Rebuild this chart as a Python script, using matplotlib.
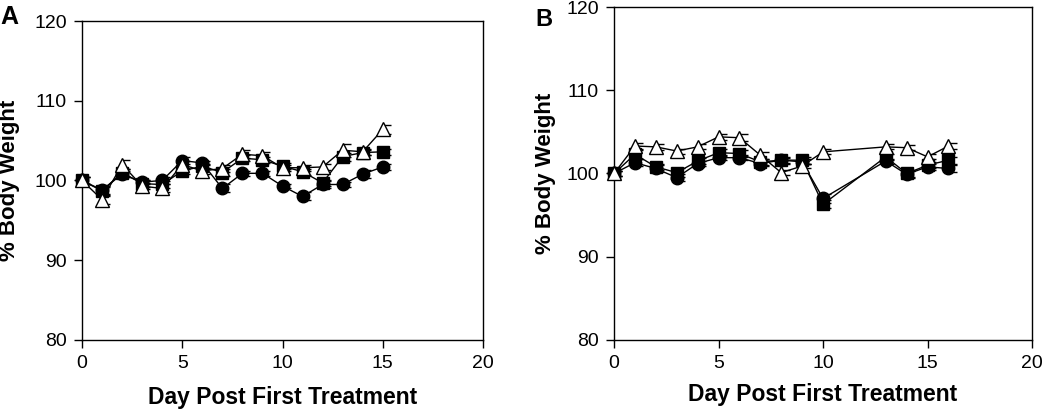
import matplotlib
matplotlib.use("Agg")
import matplotlib.pyplot as plt
import numpy as np

plt.rcParams['font.family'] = ['Liberation Sans', 'DejaVu Sans']

# Panel A
days_a = [0, 1, 2, 3, 4, 5, 6, 7, 8, 9, 10, 11, 12, 13, 14, 15]
circ_a = [100, 98.8, 100.8, 99.8, 100.0, 102.5, 102.2, 99.0, 100.9, 100.9, 99.3, 98.0, 99.5, 99.5, 100.8, 101.7]
sq_a = [100, 98.7, 101.0, 99.6, 99.5, 101.2, 101.8, 101.0, 102.8, 102.6, 101.8, 101.1, 99.7, 103.0, 103.5, 103.6]
tri_a = [100, 97.6, 102.0, 99.3, 99.0, 102.0, 101.2, 101.5, 103.3, 103.1, 101.6, 101.6, 101.7, 103.8, 103.6, 106.4]
err_circ_a = [0.4, 0.5, 0.4, 0.3, 0.5, 0.4, 0.3, 0.5, 0.3, 0.3, 0.3, 0.5, 0.4, 0.3, 0.5, 0.4]
err_sq_a = [0.4, 0.5, 0.5, 0.4, 0.4, 0.4, 0.3, 0.4, 0.4, 0.4, 0.4, 0.4, 0.4, 0.5, 0.3, 0.4]
err_tri_a = [0.4, 0.5, 0.6, 0.4, 0.5, 0.5, 0.4, 0.4, 0.5, 0.5, 0.4, 0.4, 0.4, 0.8, 0.4, 0.6]

# Panel B
days_b = [0, 1, 2, 3, 4, 5, 6, 7, 8, 9, 10, 13, 14, 15, 16]
circ_b = [100, 101.3, 100.6, 99.5, 101.2, 101.9, 101.9, 101.2, 101.6, 101.4, 97.0, 101.5, 99.9, 100.8, 100.6]
sq_b = [100, 102.3, 100.8, 100.1, 101.5, 102.5, 102.4, 101.4, 101.6, 101.6, 96.3, 102.0, 100.0, 101.0, 101.6]
tri_b = [100, 103.3, 103.2, 102.7, 103.2, 104.4, 104.3, 102.2, 100.1, 100.9, 102.6, 103.2, 103.1, 102.0, 103.3]
err_circ_b = [0.3, 0.4, 0.4, 0.4, 0.3, 0.3, 0.3, 0.3, 0.3, 0.3, 0.5, 0.3, 0.4, 0.4, 0.4]
err_sq_b = [0.3, 0.5, 0.4, 0.5, 0.4, 0.4, 0.4, 0.4, 0.4, 0.4, 0.5, 0.4, 0.4, 0.4, 0.4]
err_tri_b = [0.3, 0.4, 0.4, 0.3, 0.3, 0.4, 0.4, 0.4, 0.3, 0.3, 0.3, 0.3, 0.3, 0.3, 0.4]

xticks = [0, 5, 10, 15, 20]
yticks = [80, 90, 100, 110, 120]

fig = plt.figure(figsize=(10.5, 4.12), dpi=100)
axA = fig.add_axes([0.0781, 0.1748, 0.3819, 0.7742])
axB = fig.add_axes([0.5848, 0.1748, 0.3981, 0.8082])


def draw_series(ax, x, y, e, marker, fc, z):
    x = np.asarray(x, float)
    y = np.asarray(y, float)
    e = np.asarray(e, float)
    ax.vlines(x, y - e, y + e, color='black', lw=1.0, zorder=z)
    ax.hlines(y + e, x, x + 0.4, color='black', lw=1.0, zorder=z)
    ax.hlines(y - e, x, x + 0.4, color='black', lw=1.0, zorder=z)
    ax.plot(x, y, color='black', lw=1.0, marker=marker, markersize=9 if marker != '^' else 10,
            markerfacecolor=fc, markeredgecolor='black', markeredgewidth=1.0, zorder=z + 0.5,
            clip_on=False)


def style(ax, xl_y, yl_x):
    ax.set_xlim(0, 20)
    ax.set_ylim(80, 120)
    ax.set_xticks(xticks)
    ax.set_yticks(yticks)
    ax.tick_params(direction='out', length=6, width=1, labelsize=14, pad=5)
    for s in ax.spines.values():
        s.set_linewidth(1.0)
    ax.set_xlabel('Day Post First Treatment', fontsize=16.5, fontweight='bold', va='center')
    ax.xaxis.set_label_coords(0.5, xl_y)
    ax.set_ylabel('% Body Weight', fontsize=16, fontweight='bold', va='center')
    ax.yaxis.set_label_coords(yl_x, 0.5)


draw_series(axA, days_a, circ_a, err_circ_a, 'o', 'black', 2)
draw_series(axA, days_a, sq_a, err_sq_a, 's', 'black', 3)
draw_series(axA, days_a, tri_a, err_tri_a, '^', 'white', 4)
style(axA, -0.179, -0.18)

draw_series(axB, days_b, circ_b, err_circ_b, 'o', 'black', 2)
draw_series(axB, days_b, sq_b, err_sq_b, 's', 'black', 3)
draw_series(axB, days_b, tri_b, err_tri_b, '^', 'white', 4)
style(axB, -0.165, -0.165)

fig.text(0.0, 1 - 17.5 / 412, 'A', fontsize=18, fontweight='bold', va='center', ha='left')
fig.text(535 / 1050, 1 - 19.5 / 412, 'B', fontsize=17, fontweight='bold', va='center', ha='left')

fig.savefig('out.png', dpi=100)
